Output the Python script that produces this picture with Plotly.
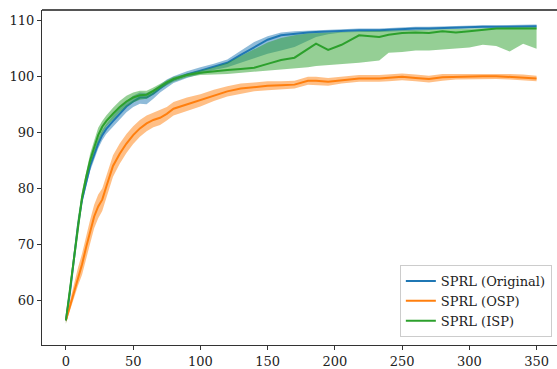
import plotly.graph_objects as go

steps = [0, 3, 6, 9, 12, 15, 18, 21, 24, 27,
         30, 35, 40, 45, 50, 55, 60, 65, 70, 75,
         80, 90, 100, 110, 120, 130, 140, 150, 160, 170,
         180, 186, 195, 205, 218, 233, 240, 250, 260, 270,
         280, 290, 300, 310, 320, 330, 340, 350]

blue_mean = [56.5, 61.5, 67.5, 73.5, 78.0, 81.3, 84.0, 86.0, 88.0, 89.5,
             90.6, 92.0, 93.3, 94.6, 95.5, 96.2, 96.2, 96.9, 97.8, 98.7,
             99.4, 100.3, 101.0, 101.7, 102.4, 103.8, 105.2, 106.5, 107.3, 107.6,
             107.8, 107.9, 108.0, 108.1, 108.2, 108.2, 108.3, 108.4, 108.5, 108.5,
             108.6, 108.7, 108.8, 108.8, 108.8, 108.8, 108.9, 108.9]
blue_lo = [56.0, 60.9, 66.9, 72.9, 77.3, 80.4, 83.1, 85.1, 87.1, 88.6,
           89.7, 91.0, 92.3, 93.6, 94.5, 95.1, 95.0, 96.0, 97.1, 98.0,
           98.8, 99.7, 100.4, 101.1, 101.6, 102.4, 103.2, 104.0, 104.6, 105.2,
           106.3, 107.0, 107.5, 107.8, 107.9, 107.9, 108.0, 108.1, 108.2, 108.2,
           108.3, 108.4, 108.5, 108.5, 108.5, 108.5, 108.6, 108.6]
blue_hi = [57.0, 62.1, 68.1, 74.1, 78.7, 82.2, 84.9, 86.9, 88.9, 90.4,
           91.5, 93.0, 94.3, 95.6, 96.5, 97.1, 97.0, 97.6, 98.5, 99.4,
           100.0, 100.9, 101.6, 102.2, 103.0, 104.6, 106.1, 107.1, 107.8, 108.0,
           108.1, 108.2, 108.3, 108.4, 108.5, 108.5, 108.6, 108.7, 108.8, 108.8,
           108.9, 109.0, 109.1, 109.1, 109.1, 109.1, 109.2, 109.2]

orange_mean = [56.5, 59.0, 61.8, 64.3, 66.5, 69.5, 72.3, 75.0, 76.8, 78.0,
               80.3, 84.0, 86.2, 88.0, 89.5, 90.7, 91.6, 92.2, 92.6, 93.3,
               94.2, 95.0, 95.7, 96.6, 97.3, 97.8, 98.1, 98.3, 98.4, 98.5,
               99.2, 99.2, 99.0, 99.3, 99.6, 99.6, 99.7, 99.9, 99.7, 99.5,
               99.8, 99.9, 99.9, 100.0, 100.0, 99.9, 99.8, 99.6]
orange_spread = [0.5, 1.0, 1.3, 1.6, 1.9, 2.1, 2.1, 2.1, 2.1, 2.0,
                 2.0, 1.9, 1.8, 1.7, 1.6, 1.5, 1.4, 1.3, 1.3, 1.2,
                 1.2, 1.2, 1.1, 1.0, 0.9, 0.9, 0.8, 0.8, 0.7, 0.7,
                 0.7, 0.7, 0.7, 0.6, 0.6, 0.6, 0.6, 0.6, 0.6, 0.6,
                 0.6, 0.5, 0.5, 0.5, 0.5, 0.5, 0.5, 0.5]

green_mean = [56.5, 62.0, 68.0, 74.0, 78.5, 82.0, 85.0, 87.3, 89.5, 91.0,
              92.0, 93.3, 94.5, 95.5, 96.2, 96.6, 96.7, 97.4, 98.2, 98.9,
              99.5, 100.2, 100.6, 100.9, 101.1, 101.3, 101.5, 102.2, 102.9, 103.3,
              104.8, 105.8, 104.7, 105.6, 107.3, 107.0, 107.4, 107.7, 107.8, 107.7,
              108.0, 107.8, 108.0, 108.3, 108.5, 108.5, 108.5, 108.5]
green_lo = [55.8, 61.0, 67.0, 73.0, 77.5, 81.0, 84.0, 86.3, 88.3, 89.8,
            91.0, 92.3, 93.6, 94.6, 95.3, 95.8, 96.0, 96.8, 97.7, 98.4,
            99.0, 99.8, 100.2, 100.3, 100.4, 100.6, 100.8, 100.9, 101.1, 101.4,
            101.6, 101.8, 102.0, 102.2, 102.4, 102.8, 104.2, 104.3, 104.6, 104.6,
            104.8, 104.9, 105.1, 105.6, 105.4, 104.4, 105.8, 104.9]
green_hi = [57.2, 63.0, 69.0, 75.0, 79.5, 83.0, 86.2, 88.5, 90.8, 92.0,
            93.0, 94.4, 95.6, 96.5, 97.1, 97.4, 97.4, 98.0, 98.7, 99.3,
            99.9, 100.5, 101.0, 101.6, 102.4, 103.6, 104.9, 106.0, 106.8, 107.3,
            107.6, 107.7, 107.8, 107.9, 108.0, 108.1, 108.1, 108.2, 108.3, 108.3,
            108.4, 108.4, 108.5, 108.6, 108.7, 108.7, 108.7, 108.7]

orange_lo = [m - s for m, s in zip(orange_mean, orange_spread)]
orange_hi = [m + s for m, s in zip(orange_mean, orange_spread)]

series = [
    ("SPRL (Original)", "#1f77b4", "rgba(31,119,180,0.5)", blue_mean, blue_lo, blue_hi),
    ("SPRL (OSP)", "#ff7f0e", "rgba(255,127,14,0.5)", orange_mean, orange_lo, orange_hi),
    ("SPRL (ISP)", "#2ca02c", "rgba(44,160,44,0.5)", green_mean, green_lo, green_hi),
]

FONT = "DejaVu Serif"
fig = go.Figure()
for name, col, fcol, mean, lo, hi in series:
    fig.add_trace(go.Scatter(
        x=steps + steps[::-1], y=hi + lo[::-1], fill="toself",
        fillcolor=fcol, line=dict(width=0), mode="lines",
        hoverinfo="skip", showlegend=False))
    fig.add_trace(go.Scatter(
        x=steps, y=mean, mode="lines", name=name,
        line=dict(color=col, width=2)))

fig.update_layout(
    width=557, height=369,
    margin=dict(l=42, r=0, t=10, b=24),
    plot_bgcolor="white", paper_bgcolor="white",
    font=dict(family=FONT, size=13, color="#222"),
    legend=dict(x=0.99, y=0.024, xanchor="right", yanchor="bottom",
                bgcolor="white", bordercolor="#cccccc", borderwidth=1,
                font=dict(family=FONT, size=13, color="#222")),
    xaxis=dict(range=[-17.8, 365.2], tickvals=[0, 50, 100, 150, 200, 250, 300, 350],
               showgrid=False, zeroline=False, showline=True, linecolor="#333",
               linewidth=1.2, ticks="outside", ticklen=4, tickcolor="#333"),
    yaxis=dict(range=[52.1, 111.8], tickvals=[60, 70, 80, 90, 100, 110],
               showgrid=False, zeroline=False, showline=True, linecolor="#333",
               linewidth=1.2, ticks="outside", ticklen=4, tickcolor="#333"),
    shapes=[dict(type="line", xref="paper", yref="paper", x0=0, x1=1, y0=1, y1=1,
                 line=dict(color="#555", width=2))],
)

fig.write_html("out.html")
